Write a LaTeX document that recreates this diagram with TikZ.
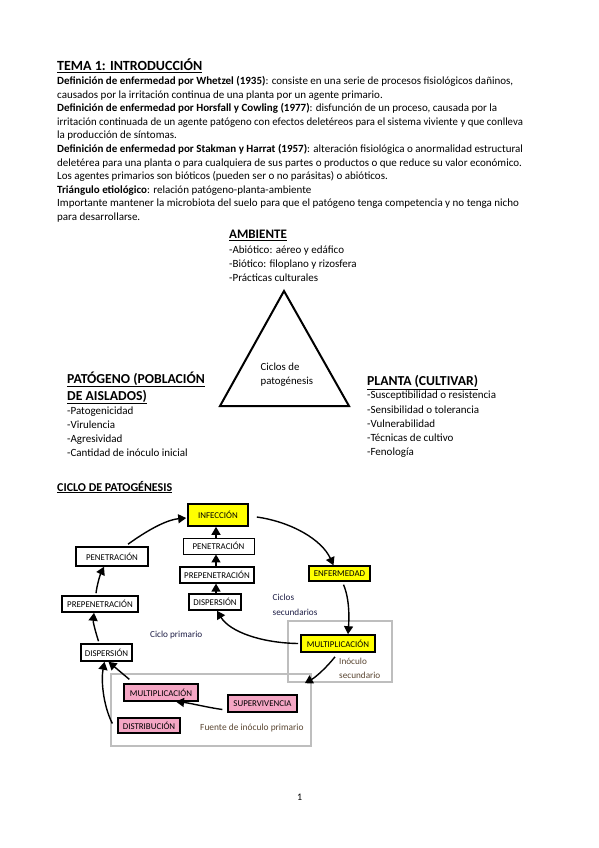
\documentclass[tikz,border=0pt]{standalone}
\usepackage{fontspec}
\setmainfont{Carlito}
\usetikzlibrary{arrows.meta,calc}
\definecolor{ybox}{RGB}{255,255,0}
\definecolor{pbox}{RGB}{244,166,196}
\definecolor{gbox}{RGB}{190,190,190}
\definecolor{navy}{RGB}{30,30,70}
\definecolor{brownish}{RGB}{90,70,50}
\begin{document}
\begin{tikzpicture}[x=1pt,y=-1pt,
  para/.style={anchor=base west, inner sep=0pt, font=\fontsize{11}{12}\selectfont},
  lst/.style={anchor=base west, inner sep=0pt, font=\fontsize{11}{12}\selectfont},
  hd/.style={anchor=base west, inner sep=0pt, font=\fontsize{13.7}{15}\selectfont\bfseries},
  cbox/.style={draw, inner sep=0pt, line width=1.6pt, font=\fontsize{8.9}{10}\selectfont},
  thinbox/.style={draw, inner sep=0pt, line width=0.9pt, font=\fontsize{8.9}{10}\selectfont},
  greybox/.style={draw=gbox, line width=1.6pt, inner sep=0pt},
  lbl/.style={anchor=base west, inner sep=0pt, align=left, font=\fontsize{9.2}{15}\selectfont},
  arr/.style={-{Triangle[width=9pt,length=8pt]}, line width=1.4pt}]
\useasboundingbox (0,0) rectangle (599,848);
\fill[white] (0,0) rectangle (599,848);

% ---------- header text ----------
\node[para, font=\fontsize{14}{15}\selectfont\bfseries] (title) at (57,71) {\underline{TEMA 1: INTRODUCCIÓN}};
\node[para] (l1) at (57,84.5) {\textbf{Definición de enfermedad por Whetzel (1935)}: consiste en una serie de procesos fisiológicos dañinos,};
\node[para] (l2) at (57,98.1) {causados por la irritación continua de una planta por un agente primario.};
\node[para] (l3) at (57,111.7) {\textbf{Definición de enfermedad por Horsfall y Cowling (1977)}: disfunción de un proceso, causada por la};
\node[para] (l4) at (57,125.3) {\scalebox{0.98}[1]{irritación continuada de un agente patógeno con efectos deletéreos para el sistema viviente y que conlleva}};
\node[para] (l5) at (57,138.9) {la producción de síntomas.};
\node[para] (l6) at (57,152.5) {\textbf{Definición de enfermedad por Stakman y Harrat (1957)}: alteración fisiológica o anormalidad estructural};
\node[para] (l7) at (57,166.1) {deletérea para una planta o para cualquiera de sus partes o productos o que reduce su valor económico.};
\node[para] (l8) at (57,179.7) {Los agentes primarios son bióticos (pueden ser o no parásitas) o abióticos.};
\node[para] (l9) at (57,193.3) {\textbf{Triángulo etiológico}: relación patógeno-planta-ambiente};
\node[para] (l10) at (57,206.9) {Importante mantener la microbiota del suelo para que el patógeno tenga competencia y no tenga nicho};
\node[para] (l11) at (57,220.5) {para desarrollarse.};

% ---------- triangle ----------
\node[hd, font=\fontsize{13}{15}\selectfont\bfseries] (amb) at (229,238.5) {\underline{AMBIENTE}};
\node[lst] (amb1) at (229,253) {-Abiótico: aéreo y edáfico};
\node[lst] (amb2) at (229,267) {-Biótico: filoplano y rizosfera};
\node[lst] (amb3) at (229,281) {-Prácticas culturales};

\coordinate (apex) at (284,291);
\coordinate (bl) at (220,406);
\coordinate (br) at (349,406);
\draw[line width=2pt, line join=miter] (apex) -- (bl) -- (br) -- cycle;
\node[anchor=base west, inner sep=0pt, align=left, font=\fontsize{10.8}{14.5}\selectfont] (ciclos) at (260.5,384.5) {Ciclos de\\patogénesis};

\node[hd] (pat) at (67,383) {\underline{PATÓGENO (POBLACIÓN}};
\node[hd] (pat0) at (67,400) {\underline{DE AISLADOS)}};
\node[lst] (pat1) at (67,414) {-Patogenicidad};
\node[lst] (pat2) at (67,428) {-Virulencia};
\node[lst] (pat3) at (67,442) {-Agresividad};
\node[lst] (pat4) at (67,456) {-Cantidad de inóculo inicial};

\node[hd] (pla) at (367,385.5) {\underline{PLANTA (CULTIVAR)}};
\node[lst] (pla1) at (367,398.5) {-Susceptibilidad o resistencia};
\node[lst] (pla2) at (367,413) {-Sensibilidad o tolerancia};
\node[lst] (pla3) at (367,427) {-Vulnerabilidad};
\node[lst] (pla4) at (367,441) {-Técnicas de cultivo};
\node[lst] (pla5) at (367,455) {-Fenología};

% ---------- cycle ----------
\node[para, font=\fontsize{12}{13}\selectfont\bfseries] (ciclo) at (57,491) {\underline{CICLO DE PATOGÉNESIS}};

\node[greybox, minimum width=200pt, minimum height=72pt] (grey2) at (211,710) {};
\node[greybox, minimum width=104pt, minimum height=61pt] (grey1) at (340,651.5) {};

\node[cbox, fill=ybox, minimum width=60pt, minimum height=22pt] (inf) at (218,515) {INFECCIÓN};
\node[thinbox, minimum width=71pt, minimum height=16pt] (pen2) at (218.5,546) {PENETRACIÓN};
\node[thinbox, line width=1.2pt, minimum width=74pt, minimum height=16pt] (prep2) at (217,575) {PREPENETRACIÓN};
\node[cbox, minimum width=52pt, minimum height=16pt] (disp2) at (215,602) {DISPERSIÓN};
\node[cbox, line width=1.3pt, fill=ybox, minimum width=61pt, minimum height=15pt] (enf) at (339.5,573.5) {ENFERMEDAD};
\node[cbox, minimum width=72pt, minimum height=19pt] (pen1) at (112,556.5) {PENETRACIÓN};
\node[cbox, minimum width=76pt, minimum height=16pt] (prep1) at (100,604) {PREPENETRACIÓN};
\node[cbox, minimum width=51pt, minimum height=17pt] (disp1) at (106.5,652.5) {DISPERSIÓN};
\node[cbox, fill=ybox, minimum width=74pt, minimum height=17pt] (mult1) at (338,643.5) {MULTIPLICACIÓN};
\node[cbox, line width=1.3pt, fill=pbox, minimum width=74pt, minimum height=17pt] (mult2) at (161,692.5) {MULTIPLICACIÓN};
\node[cbox, line width=1.3pt, fill=pbox, minimum width=69pt, minimum height=17pt] (sup) at (262.5,703.5) {SUPERVIVENCIA};
\node[cbox, line width=1.3pt, fill=pbox, minimum width=62pt, minimum height=15pt] (dist) at (149,725.5) {DISTRIBUCIÓN};

\node[lbl, text=navy] (csec) at (272.5,615) {Ciclos\\secundarios};
\node[lbl, text=navy] (cpri) at (150,637.5) {Ciclo primario};
\node[lbl, text=brownish, font=\fontsize{9.2}{14}\selectfont] (isec) at (339,678.5) {Inóculo\\secundario};
\node[lbl, text=brownish, font=\fontsize{9.4}{12}\selectfont] (fip) at (200,730.5) {Fuente de inóculo primario};

% arrows
\draw[arr] ($(inf.east)+(8,2)$) .. controls (292,522) and (322,540) .. ($(enf.north)+(-6,0)$);
\draw[arr] ($(enf.south)+(4,3)$) .. controls (350,600) and (349,620) .. ($(mult1.north)+(10,0)$);
\draw[arr] ($(mult1.south)+(-3,4)$) .. controls (327,667) and (316,677) .. ($(grey2.north east)+(-7,10)$);
\draw[arr] ($(sup.west)+(-5,6)$) .. controls (205,707) and (190,703) .. ($(mult2.south)+(15,0)$);
\draw[arr] ($(mult2.north west)+(6,-4)$) -- ($(disp1.south)+(2,0)$);
\draw[arr] ($(dist.west)+(-5,-2)$) .. controls (103,705) and (101,680) .. ($(disp1.south)+(-2,0)$);
\draw[arr] ($(disp1.north)+(-8,-2)$) .. controls (95,630) and (93,622) .. ($(prep1.south)+(-6,0)$);
\draw[arr] ($(prep1.north)+(-4,-2)$) .. controls (97,585) and (100,575) .. ($(pen1.south)+(-8,0)$);
\draw[arr] ($(pen1.north)+(16,-2)$) .. controls (145,532) and (165,520) .. ($(inf.west)+(-1,3)$);
\draw[arr] ($(mult1.west)+(-2,0)$) .. controls (262,643) and (230,632) .. ($(disp2.south)+(2,0)$);
\draw[arr] ($(disp2.north)+(1,0)$) -- ($(disp2.north |- prep2.south)+(1,0)$);
\draw[arr] ($(prep2.north)+(-1,0)$) -- ($(prep2.north |- pen2.south)+(-1,0)$);
\draw[arr] ($(pen2.north)+(-2.5,0)$) -- ($(pen2.north |- inf.south)+(-2.5,0)$);

\node[para, font=\fontsize{10}{12}\selectfont] (pg) at (297,800) {1};
\end{tikzpicture}
\end{document}
